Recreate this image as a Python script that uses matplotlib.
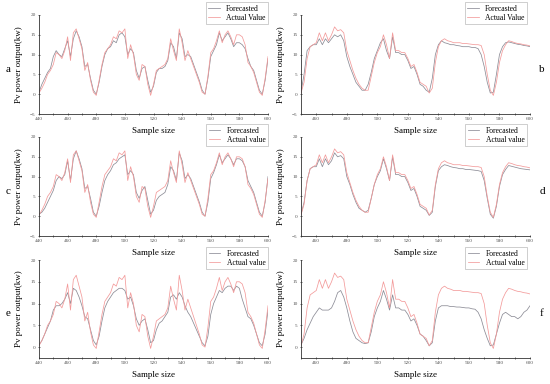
import matplotlib
matplotlib.use("Agg")
import matplotlib.pyplot as plt
import numpy as np

plt.rcParams['font.family'] = ['Liberation Serif', 'DejaVu Serif']

# ---------------- data ----------------
x_left = list(range(440, 601, 2))
x_right = list(range(450, 601, 2))

actual_left = [0.3, 1.5, 3.0, 5.0, 6.0, 7.5, 10.5, 10.0, 9.0, 11.0,
               14.5, 8.5, 15.5, 16.5, 14.0, 11.5, 6.0, 8.0, 3.5, 0.5,
               -0.3, 3.5, 7.5, 10.5, 11.5, 12.5, 14.5, 14.0, 16.0, 15.5,
               16.5, 9.0, 12.5, 10.0, 5.0, 3.5, 7.5, 7.0, 2.5, -0.3,
               2.5, 6.0, 6.5, 7.0, 7.5, 9.0, 14.0, 11.0, 8.5, 16.5,
               13.0, 8.5, 11.0, 9.0, 7.0, 5.0, 3.0, 0.5, 0.0, 4.5,
               10.5, 11.5, 13.5, 16.0, 13.0, 15.0, 16.0, 14.5, 12.5, 15.0,
               15.0, 14.5, 12.5, 8.0, 7.0, 5.5, 3.0, 0.5, -0.3, 4.0, 9.5]

forecast_a = [0.5, 2.5, 4.0, 5.5, 6.5, 9.5, 11.0, 10.0, 9.5, 11.5,
              13.5, 9.5, 14.0, 16.0, 14.5, 12.0, 7.0, 7.5, 4.0, 1.0,
              0.0, 3.0, 7.0, 10.0, 11.5, 12.0, 13.5, 13.0, 15.0, 15.5,
              14.5, 10.0, 11.5, 10.5, 6.0, 4.0, 6.5, 7.0, 3.5, 0.5,
              2.0, 5.5, 6.5, 6.5, 7.0, 8.5, 13.0, 12.0, 9.0, 15.5,
              14.0, 9.5, 10.0, 9.5, 7.5, 5.5, 3.5, 1.0, 0.0, 4.0,
              9.5, 11.0, 12.5, 15.5, 13.5, 14.5, 15.5, 14.0, 12.0, 13.0,
              13.0, 12.5, 11.5, 9.0, 7.0, 6.0, 3.5, 1.0, 0.0, 3.5, 9.0]

forecast_c = [0.5, 1.0, 2.0, 3.5, 5.0, 6.5, 9.0, 10.0, 9.5, 10.5,
              14.0, 9.0, 14.5, 16.5, 14.5, 12.0, 7.0, 7.5, 4.5, 1.0,
              0.0, 2.5, 6.0, 9.0, 10.5, 11.5, 13.0, 13.5, 14.5, 15.0,
              15.5, 10.5, 11.5, 10.5, 6.0, 4.5, 6.5, 7.5, 4.0, 0.5,
              1.5, 4.0, 5.0, 5.5, 6.0, 8.0, 12.5, 11.5, 9.0, 16.0,
              14.0, 9.5, 10.5, 9.5, 7.5, 5.5, 3.5, 1.0, 0.0, 3.5,
              9.5, 11.0, 13.0, 15.5, 13.5, 14.5, 15.5, 14.5, 13.0, 14.5,
              14.5, 14.0, 12.5, 9.0, 7.5, 6.0, 3.5, 1.0, 0.0, 3.5, 10.0]

forecast_e = [0.5, 1.5, 3.0, 4.5, 6.0, 8.5, 9.5, 9.5, 10.0, 11.0,
              12.5, 10.0, 13.5, 13.0, 11.5, 9.5, 7.0, 6.5, 4.0, 1.5,
              0.5, 2.5, 6.0, 9.0, 10.5, 11.5, 12.5, 13.0, 13.5, 13.5,
              13.0, 11.0, 11.5, 9.5, 6.5, 5.0, 6.0, 6.5, 4.0, 1.0,
              1.5, 4.0, 5.5, 6.0, 7.0, 8.0, 11.5, 12.0, 11.0, 12.5,
              11.5, 9.5, 8.0, 7.0, 5.5, 4.0, 2.5, 1.0, 0.3, 2.5,
              7.5, 10.0, 11.5, 13.0, 12.5, 13.5, 14.0, 14.0, 13.0, 14.0,
              13.5, 11.0, 9.0, 7.0, 6.5, 5.0, 3.0, 1.0, 0.3, 3.0, 8.5]

actual_right = [0.3, 3.0, 9.0, 12.0, 12.5, 13.0, 15.5, 13.5, 15.5, 13.5,
                15.0, 17.0, 16.0, 16.3, 15.5, 11.0, 8.5, 6.0, 4.0, 2.5,
                1.5, 1.0, 1.0, 4.5, 8.0, 10.5, 12.0, 15.0, 12.5, 9.0,
                15.5, 11.0, 11.0, 10.5, 10.5, 9.0, 7.0, 7.5, 5.5, 3.0,
                2.5, 2.0, 0.3, 1.5, 8.0, 12.0, 13.5, 14.0, 13.5, 13.3,
                13.0, 13.0, 13.0, 12.8, 12.8, 12.7, 12.6, 12.5, 12.5, 12.3,
                10.0, 5.0, 1.0, -0.3, 3.0, 8.0, 11.0, 12.5, 13.5, 13.3,
                13.0, 12.8, 12.7, 12.5, 12.4, 12.2]

forecast_b = [0.5, 5.0, 11.0, 12.0, 12.5, 12.5, 14.0, 12.5, 14.0, 13.0,
              14.0, 15.0, 14.5, 15.0, 13.5, 9.5, 7.0, 5.0, 3.0, 2.0,
              1.0, 1.0, 2.5, 5.5, 9.0, 11.0, 13.0, 14.0, 11.0, 9.0,
              14.5, 10.5, 10.5, 10.0, 10.0, 8.5, 6.5, 7.0, 5.0, 2.5,
              2.0, 1.0, 0.5, 4.0, 10.0, 12.5, 13.5, 13.0, 12.8, 12.5,
              12.5, 12.3, 12.2, 12.0, 12.0, 12.0, 11.8, 11.8, 11.5, 10.0,
              7.0, 3.0, 0.3, 0.5, 5.0, 10.0, 12.0, 13.0, 13.2, 13.0,
              12.8, 12.6, 12.5, 12.3, 12.2, 12.0]

forecast_d = [0.5, 3.5, 9.0, 12.0, 12.5, 12.5, 14.5, 12.5, 14.5, 13.0,
              14.0, 16.0, 15.0, 15.3, 14.5, 10.0, 8.0, 5.5, 3.5, 2.0,
              1.5, 1.0, 1.5, 4.5, 8.0, 10.0, 11.5, 14.5, 12.0, 9.0,
              15.0, 10.5, 10.5, 10.0, 10.0, 8.5, 6.5, 7.0, 5.0, 2.5,
              2.0, 1.5, 0.2, 1.0, 7.5, 11.5, 12.5, 13.0, 12.8, 12.5,
              12.3, 12.2, 12.0, 12.0, 11.8, 11.8, 11.7, 11.6, 11.5, 11.3,
              9.0, 4.5, 0.5, -0.5, 2.5, 7.5, 10.5, 11.8, 12.8, 12.6,
              12.4, 12.2, 12.0, 11.9, 11.8, 11.7]

forecast_f = [0.5, 2.0, 4.0, 5.5, 7.0, 8.0, 9.0, 8.5, 8.5, 8.5,
              9.0, 10.5, 12.5, 13.0, 11.5, 9.0, 6.0, 3.5, 2.0, 1.5,
              1.0, 0.8, 1.0, 3.5, 7.0, 9.0, 10.5, 13.0, 11.0, 8.5,
              12.0, 9.0, 9.0, 8.5, 8.5, 7.5, 6.0, 6.5, 5.0, 3.0,
              2.5, 1.5, 0.3, 1.0, 6.0, 9.0, 9.5, 9.5, 9.5, 9.3,
              9.3, 9.2, 9.2, 9.1, 9.0, 9.0, 8.8, 8.7, 8.0, 6.5,
              4.0, 2.0, 0.3, 0.5, 3.0, 5.5, 7.5, 8.0, 7.5, 7.0,
              7.0, 6.5, 7.0, 8.0, 8.5, 9.5]

xticks_left = [440, 460, 480, 500, 520, 540, 560, 580, 600]
xticks_right = [460, 480, 500, 520, 540, 560, 580, 600]
panel_letters = ['a', 'b', 'c', 'd', 'e', 'f']
actual_labels = ['Actual Value', 'Actual Value', 'Actual value',
                 'Actual value', 'Actual value', 'Actual value']

# ---------------- layout ----------------
W, H = 550, 384
fig = plt.figure(figsize=(W / 100, H / 100), dpi=100)
fig.patch.set_facecolor('white')

def rect(x0, x1, yt, yb):
    return [x0 / W, 1 - yb / H, (x1 - x0) / W, (yb - yt) / H]

cols = [(39, 268), (301, 530)]
rows = [(15, 114), (137, 236), (260, 358)]
legend_right = [268, 527]

GRAY = '#8c8c96'
PINK = '#f39a9a'

panels = [
    (x_left, actual_left, forecast_a),
    (x_right, actual_right, forecast_b),
    (x_left, actual_left, forecast_c),
    (x_right, actual_right, forecast_d),
    (x_left, actual_left, forecast_e),
    (x_right, actual_right, forecast_f),
]

for i, (xs, act, fc) in enumerate(panels):
    r, c = divmod(i, 2)
    x0, x1 = cols[c]
    yt, yb = rows[r]
    ax = fig.add_axes(rect(x0, x1, yt, yb))
    l1, = ax.plot(xs, fc, color=GRAY, lw=0.55, label='Forecasted')
    l2, = ax.plot(xs, act, color=PINK, lw=0.55, label=actual_labels[i])
    if c == 0:
        ax.set_xlim(440, 600)
        ax.set_xticks(xticks_left)
        ax.set_xticks([v + 10 for v in xticks_left[:-1]], minor=True)
    else:
        ax.set_xlim(450, 600)
        ax.set_xticks(xticks_right)
        ax.set_xticks([450] + [v + 10 for v in xticks_right[:-1]], minor=True)
    if r < 2:
        ax.set_ylim(-5, 20)
        ax.set_yticks([-5, 0, 5, 10, 15, 20])
    else:
        ax.set_ylim(-2.5, 20)
        ax.set_yticks([0, 5, 10, 15, 20])
    for s in ['top', 'right']:
        ax.spines[s].set_visible(False)
    for s in ['left', 'bottom']:
        ax.spines[s].set_linewidth(0.6)
        ax.spines[s].set_color('#333333')
    ax.tick_params(axis='both', which='major', labelsize=3.8, length=2, width=0.5,
                   direction='inout', pad=1.5, colors='#333333', labelcolor='#555555')
    ax.tick_params(axis='both', which='minor', length=1.5, width=0.5, direction='inout',
                   colors='#333333')
    ax.set_xlabel('Sample size', fontsize=6.5, labelpad=4)
    # y label
    ylx = 19 if c == 0 else 281
    fig.text(ylx / W, 1 - ((yt + yb) / 2) / H, 'Pv power output(kw)', rotation=90,
             ha='center', va='center', fontsize=6.5)
    # panel letter
    lx = 8 if c == 0 else 542
    fig.text(lx / W, 1 - ((yt + yb) / 2 + 5) / H, panel_letters[i],
             ha='center', va='center', fontsize=8)
    # legend
    leg = ax.legend(handles=[l1, l2], loc='upper right',
                    bbox_to_anchor=(legend_right[c] / W, 1 - (yt - 13) / H),
                    bbox_transform=fig.transFigure, fontsize=5.5,
                    frameon=True, fancybox=False, handlelength=1.5,
                    handletextpad=0.8, borderpad=0.35, labelspacing=0.15,
                    borderaxespad=0)
    leg.get_frame().set_linewidth(0.5)
    leg.get_frame().set_edgecolor('#aaaaaa')

fig.savefig('out.png', dpi=100)
